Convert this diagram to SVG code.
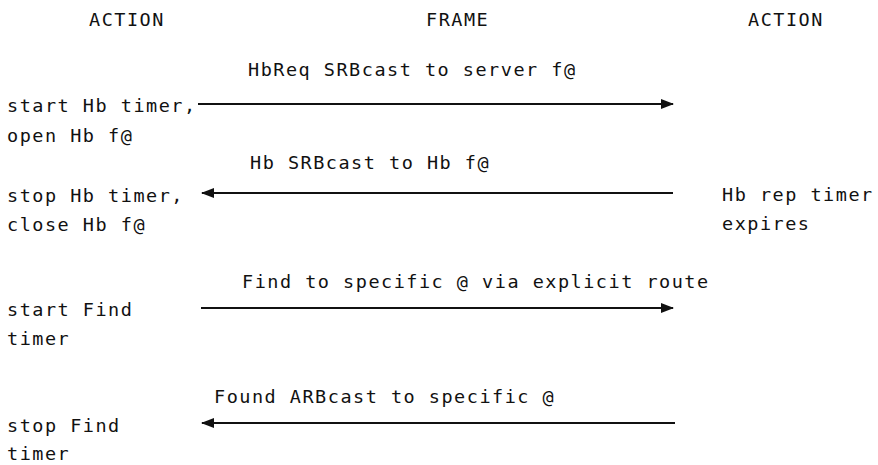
<svg xmlns="http://www.w3.org/2000/svg" width="878" height="465" viewBox="0 0 878 465">
<style>
text{font-family:"DejaVu Sans Mono","Liberation Mono",monospace;font-size:18.5px;letter-spacing:1.5px;fill:#111}
.c line{stroke:#111;stroke-width:2}
</style>
<defs>
<marker id="ah" viewBox="0 0 13 10" refX="12" refY="5" markerWidth="13" markerHeight="10" markerUnits="userSpaceOnUse" orient="auto">
<path d="M0,0 L13,5 L0,10 Z" fill="#111"/>
</marker>
</defs>
<rect width="878" height="465" fill="#fff"/>
<g id="headers">
<text x="89" y="26">ACTION</text>
<text x="426" y="26">FRAME</text>
<text x="748" y="26">ACTION</text>
</g>
<g id="left-actions">
<text x="7" y="112">start Hb timer,</text>
<text x="7" y="142">open Hb f@</text>
<text x="7" y="202">stop Hb timer,</text>
<text x="7" y="231">close Hb f@</text>
<text x="7" y="316">start Find</text>
<text x="7" y="345">timer</text>
<text x="7" y="432">stop Find</text>
<text x="7" y="460">timer</text>
</g>
<g id="right-actions">
<text x="722" y="201">Hb rep timer</text>
<text x="722" y="230">expires</text>
</g>
<g id="labels">
<text x="248" y="76">HbReq SRBcast to server f@</text>
<text x="250" y="169">Hb SRBcast to Hb f@</text>
<text x="242" y="288">Find to specific @ via explicit route</text>
<text x="214" y="403">Found ARBcast to specific @</text>
</g>
<g class="c" id="connectors">
<line x1="198" y1="104" x2="673" y2="104" marker-end="url(#ah)"/>
<line x1="673" y1="193" x2="202" y2="193" marker-end="url(#ah)"/>
<line x1="201" y1="308" x2="673" y2="308" marker-end="url(#ah)"/>
<line x1="675" y1="423" x2="202" y2="423" marker-end="url(#ah)"/>
</g>
</svg>
